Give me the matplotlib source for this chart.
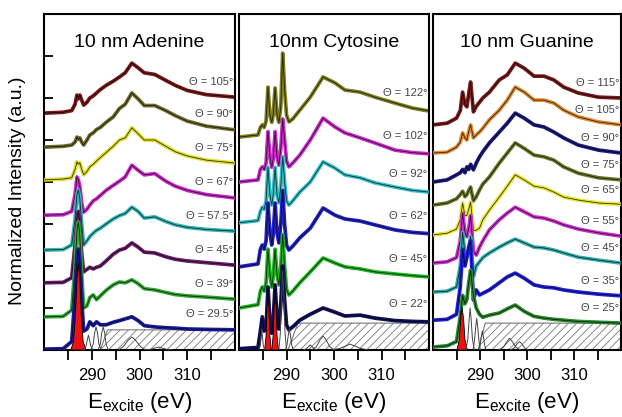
import matplotlib.pyplot as plt
import numpy as np

plt.rcParams['font.family'] = ['Liberation Sans', 'DejaVu Sans']
plt.rcParams['hatch.linewidth'] = 0.6

# ---------------- Adenine ----------------
e_ade = [280, 284, 285.8, 286.5, 286.9, 287.2, 287.5, 287.9, 288.3, 289.0, 289.6, 290.3, 291.0, 291.8,
         293.0, 294.5, 295.8, 297.0, 298.4, 299.7, 301.0, 303.2, 305.5, 307.5, 310, 314, 320]
ade_angles = ['105', '90', '75', '67', '57.5', '45', '39', '29.5']
ade_colors = ['#7a1a1a', '#6e6b2c', '#dede2a', '#cc2ccc', '#35b5b5', '#6a1f6a', '#33a833', '#1c1ca0']
ade_105 = [5.64, 5.66, 5.70, 5.85, 6.07, 5.98, 6.07, 5.95, 5.83, 5.90, 6.00, 6.05, 6.12, 6.20,
           6.30, 6.40, 6.50, 6.60, 6.83, 6.72, 6.60, 6.56, 6.42, 6.30, 6.18, 6.08, 6.02]
ade_90 = [4.83, 4.85, 4.88, 4.95, 5.07, 5.02, 5.05, 4.95, 4.88, 5.00, 5.12, 5.17, 5.25, 5.30,
          5.42, 5.55, 5.75, 5.85, 6.12, 5.98, 5.82, 5.82, 5.70, 5.58, 5.45, 5.33, 5.24]
ade_75 = [4.05, 4.07, 4.10, 4.30, 4.48, 4.42, 4.46, 4.30, 4.17, 4.25, 4.36, 4.42, 4.50, 4.58,
          4.70, 4.85, 5.00, 5.05, 5.29, 5.15, 5.00, 5.00, 4.85, 4.72, 4.62, 4.52, 4.45]
ade_67 = [3.21, 3.22, 3.30, 3.70, 4.12, 4.05, 3.90, 3.50, 3.28, 3.35, 3.45, 3.55, 3.60, 3.68,
          3.80, 3.92, 4.02, 4.12, 4.40, 4.28, 4.17, 4.20, 4.02, 3.90, 3.80, 3.70, 3.62]
ade_57 = [2.38, 2.39, 2.50, 3.10, 3.70, 3.81, 3.60, 3.00, 2.50, 2.60, 2.70, 2.78, 2.85, 2.90,
          3.00, 3.12, 3.20, 3.25, 3.40, 3.30, 3.14, 3.17, 3.06, 2.98, 2.92, 2.87, 2.83]
ade_45 = [1.60, 1.61, 1.72, 2.50, 3.15, 3.30, 3.00, 2.30, 1.86, 1.92, 1.97, 1.93, 1.97, 2.00,
          2.12, 2.28, 2.38, 2.42, 2.55, 2.45, 2.33, 2.31, 2.22, 2.16, 2.12, 2.08, 2.02]
ade_39 = [0.79, 0.80, 0.95, 2.00, 2.85, 3.05, 2.70, 1.80, 1.00, 1.05, 1.25, 1.31, 1.20, 1.29,
          1.42, 1.55, 1.62, 1.60, 1.67, 1.58, 1.46, 1.43, 1.37, 1.32, 1.29, 1.26, 1.21]
ade_29 = [0.02, 0.03, 0.20, 1.30, 2.15, 2.40, 2.10, 1.20, 0.45, 0.50, 0.67, 0.58, 0.67, 0.60,
          0.60, 0.66, 0.70, 0.74, 0.79, 0.70, 0.58, 0.55, 0.53, 0.52, 0.50, 0.49, 0.48]
ade_spectra = [ade_105, ade_90, ade_75, ade_67, ade_57, ade_45, ade_39, ade_29]

ade_red_e = [285.6, 286.2, 286.6, 286.9, 287.2, 287.5, 287.8, 288.2, 288.8]
ade_red_y = [0, 0.2, 0.85, 1.7, 2.07, 1.7, 0.85, 0.2, 0]
ade_fit_e = [[288.3, 288.8, 289.1, 289.3, 289.5, 289.8, 290.3],
             [289.8, 290.3, 290.6, 290.9, 291.2, 291.5, 292.0],
             [291.3, 291.8, 292.1, 292.4, 292.7, 293.0, 293.5],
             [295.5, 296.6, 297.6, 298.4, 299.2, 300.2, 301.3],
             [301.0, 302.5, 303.3, 304.0, 304.7, 305.5, 307.0]]
ade_fit_y = [[0, 0.09, 0.26, 0.35, 0.26, 0.09, 0],
             [0, 0.14, 0.41, 0.55, 0.41, 0.14, 0],
             [0, 0.14, 0.41, 0.55, 0.41, 0.14, 0],
             [0, 0.08, 0.23, 0.31, 0.23, 0.08, 0],
             [0, 0.02, 0.05, 0.07, 0.05, 0.02, 0]]
ade_step_e = [280, 291.8, 293.3, 320]
ade_step_y = [0, 0, 0.48, 0.48]

# ---------------- Cytosine ----------------
e_cyt = [280, 284.0, 284.5, 284.9, 285.3, 285.7, 286.1, 286.5, 286.9, 287.2, 287.6, 288.0, 288.4, 288.8,
         289.2, 289.6, 290.0, 290.5, 291.3, 292.8, 295.0, 297.7, 300.2, 302.3, 305.5, 308.6, 312.8, 316.5, 320]
cyt_angles = ['122', '102', '92', '62', '45', '22']
cyt_colors = ['#80801e', '#cc2ccc', '#35c0c8', '#2323c8', '#22b422', '#12125e']
cyt_122 = [5.07, 5.12, 5.30, 5.36, 5.30, 5.45, 6.26, 5.60, 5.42, 5.60, 6.24, 5.60, 5.42, 5.80,
           7.07, 6.20, 5.60, 5.43, 5.50, 5.71, 6.02, 6.50, 6.36, 6.19, 6.14, 6.02, 5.88, 5.76, 5.69]
cyt_102 = [4.00, 4.05, 4.30, 4.36, 4.30, 4.45, 5.20, 4.60, 4.35, 4.55, 5.20, 4.60, 4.40, 4.80,
           5.50, 5.00, 4.50, 4.36, 4.45, 4.64, 5.00, 5.52, 5.31, 5.17, 5.05, 4.93, 4.76, 4.70, 4.67]
cyt_92 = [3.03, 3.08, 3.30, 3.40, 3.35, 3.55, 4.35, 3.70, 3.45, 3.70, 4.35, 3.70, 3.50, 3.90,
          4.60, 4.00, 3.55, 3.45, 3.55, 3.76, 4.00, 4.48, 4.33, 4.17, 4.10, 3.98, 3.88, 3.80, 3.76]
cyt_62 = [1.98, 2.05, 2.40, 2.50, 2.40, 2.60, 3.50, 2.80, 2.50, 2.75, 3.50, 2.80, 2.55, 3.00,
          3.80, 3.00, 2.50, 2.38, 2.47, 2.67, 2.90, 3.38, 3.21, 3.12, 3.07, 2.98, 2.86, 2.80, 2.77]
cyt_45 = [1.00, 1.08, 1.40, 1.50, 1.40, 1.60, 2.40, 1.80, 1.50, 1.75, 2.40, 1.80, 1.55, 2.00,
          2.75, 2.00, 1.45, 1.31, 1.40, 1.60, 1.86, 2.19, 2.07, 1.98, 1.93, 1.86, 1.81, 1.77, 1.74]
cyt_22 = [0.03, 0.06, 0.45, 0.79, 0.45, 0.50, 1.50, 0.70, 0.40, 0.70, 1.55, 0.80, 0.50, 1.10,
          2.00, 1.20, 0.60, 0.48, 0.55, 0.71, 0.85, 1.00, 0.90, 0.81, 0.83, 0.76, 0.70, 0.68, 0.67]
cyt_spectra = [cyt_122, cyt_102, cyt_92, cyt_62, cyt_45, cyt_22]

cyt_red_e = [[285.4, 285.7, 285.9, 286.1, 286.3, 286.5, 286.8],
             [286.9, 287.2, 287.4, 287.6, 287.8, 288.0, 288.3]]
cyt_red_y = [[0, 0.34, 1.0, 1.36, 1.0, 0.34, 0],
             [0, 0.36, 1.05, 1.43, 1.05, 0.36, 0]]
cyt_fit_e = [[284.2, 284.5, 284.7, 284.8, 284.9, 285.1, 285.4],
             [288.4, 288.7, 289.0, 289.2, 289.4, 289.7, 290.0],
             [289.8, 290.1, 290.4, 290.6, 290.8, 291.1, 291.4],
             [293.5, 294.2, 294.7, 295.0, 295.3, 295.8, 296.5],
             [295.3, 296.3, 297.1, 297.7, 298.3, 299.1, 300.1],
             [299.5, 301.3, 302.5, 303.4, 304.3, 305.5, 307.3]]
cyt_fit_y = [[0, 0.12, 0.37, 0.5, 0.37, 0.12, 0],
             [0, 0.4, 1.4, 1.9, 1.4, 0.4, 0],
             [0, 0.12, 0.37, 0.5, 0.37, 0.12, 0],
             [0, 0.03, 0.09, 0.12, 0.09, 0.03, 0],
             [0, 0.08, 0.25, 0.33, 0.25, 0.08, 0],
             [0, 0.04, 0.10, 0.14, 0.10, 0.04, 0]]
cyt_step_e = [280, 290.3, 292.4, 320]
cyt_step_y = [0, 0, 0.64, 0.64]

# ---------------- Guanine ----------------
e_gua = [280, 283, 285, 285.8, 286.3, 286.8, 287.2, 287.6, 288.0, 288.6, 289.2, 289.9, 290.6,
         292.0, 294.1, 295.8, 297.5, 299.4, 301.5, 303.6, 305.7, 307.8, 310.9, 315.2, 320]
gua_angles = ['115', '105', '90', '75', '65', '55', '45', '35', '25']
gua_colors = ['#7a1a1a', '#e08a32', '#1c1c80', '#6b7a2a', '#e6e632', '#cc33cc', '#35b0b0', '#2020dd', '#2e8a2e']
gua_115 = [5.36, 5.40, 5.52, 5.70, 6.14, 5.85, 5.79, 6.10, 6.38, 5.67, 5.80, 5.90, 6.00,
           6.14, 6.43, 6.55, 6.83, 6.71, 6.52, 6.52, 6.43, 6.26, 6.12, 6.02, 6.00]
gua_105 = [4.69, 4.71, 4.83, 4.95, 5.17, 5.05, 5.00, 5.20, 5.36, 5.05, 5.12, 5.19, 5.28,
           5.48, 5.71, 5.95, 6.26, 6.14, 5.95, 5.95, 5.88, 5.71, 5.55, 5.43, 5.36]
gua_90 = [4.00, 4.05, 4.17, 4.22, 4.30, 4.22, 4.36, 4.30, 4.42, 4.29, 4.45, 4.60, 4.72,
          4.93, 5.19, 5.40, 5.64, 5.52, 5.36, 5.31, 5.19, 5.05, 4.88, 4.76, 4.69]
gua_75 = [3.45, 3.50, 3.60, 3.70, 3.78, 3.65, 3.70, 3.80, 3.88, 3.55, 3.65, 3.81, 3.95,
          4.12, 4.45, 4.69, 4.93, 4.80, 4.64, 4.60, 4.52, 4.36, 4.21, 4.10, 4.05]
gua_65 = [2.74, 2.78, 2.88, 3.10, 3.50, 3.20, 3.20, 3.35, 3.52, 2.85, 2.85, 2.90, 3.10,
          3.33, 3.64, 3.90, 4.17, 4.05, 3.90, 3.86, 3.76, 3.64, 3.57, 3.50, 3.47]
gua_55 = [2.07, 2.10, 2.20, 2.60, 3.26, 2.80, 2.70, 2.90, 3.20, 2.35, 2.26, 2.45, 2.60,
          2.86, 3.10, 3.26, 3.40, 3.29, 3.17, 3.14, 3.07, 2.98, 2.88, 2.79, 2.71]
gua_45 = [1.38, 1.40, 1.50, 2.00, 2.80, 2.30, 2.20, 2.40, 2.70, 1.75, 2.00, 2.10, 2.20,
          2.31, 2.45, 2.55, 2.64, 2.55, 2.45, 2.43, 2.38, 2.31, 2.21, 2.14, 2.07]
gua_35 = [0.71, 0.73, 0.85, 1.50, 2.40, 2.00, 2.20, 2.45, 2.60, 1.19, 1.43, 1.31, 1.35,
          1.43, 1.60, 1.74, 1.83, 1.71, 1.55, 1.50, 1.48, 1.43, 1.38, 1.33, 1.29]
gua_25 = [0.07, 0.10, 0.20, 0.80, 1.30, 1.10, 1.20, 1.60, 1.90, 1.30, 1.00, 0.85, 0.78,
          0.83, 0.88, 0.98, 1.07, 0.92, 0.80, 0.76, 0.73, 0.71, 0.68, 0.66, 0.64]
gua_spectra = [gua_115, gua_105, gua_90, gua_75, gua_65, gua_55, gua_45, gua_35, gua_25]

gua_red_e = [[285.1, 285.6, 285.9, 286.2, 286.5, 286.8, 287.3]]
gua_red_y = [[0, 0.25, 0.75, 1.0, 0.75, 0.25, 0]]
gua_fit_e = [[287.0, 287.4, 287.7, 287.9, 288.1, 288.4, 288.8],
             [288.5, 288.8, 289.1, 289.3, 289.5, 289.8, 290.1],
             [289.7, 290.0, 290.3, 290.5, 290.7, 291.0, 291.3],
             [294.0, 295.0, 295.8, 296.3, 296.8, 297.6, 298.6],
             [296.5, 297.3, 297.9, 298.4, 298.9, 299.5, 300.3]]
gua_fit_y = [[0, 0.25, 0.75, 1.0, 0.75, 0.25, 0],
             [0, 0.19, 0.56, 0.75, 0.56, 0.19, 0],
             [0, 0.11, 0.34, 0.45, 0.34, 0.11, 0],
             [0, 0.07, 0.21, 0.28, 0.21, 0.07, 0],
             [0, 0.05, 0.15, 0.20, 0.15, 0.05, 0]]
gua_step_e = [280, 289.6, 291.1, 320]
gua_step_y = [0, 0, 0.64, 0.64]

titles = ['10 nm Adenine', '10nm Cytosine', '10 nm Guanine']

fig = plt.figure(figsize=(6.22, 4.17), dpi=100)
rects = [[44 / 622, 67 / 417, 191 / 622, 336 / 417],
         [239 / 622, 67 / 417, 190 / 622, 336 / 417],
         [433 / 622, 67 / 417, 188 / 622, 336 / 417]]

panels = [
    (e_ade, ade_spectra, ade_colors, ade_angles, [ade_red_e], [ade_red_y], ade_fit_e, ade_fit_y,
     ade_step_e, ade_step_y, 0.37),
    (e_cyt, cyt_spectra, cyt_colors, cyt_angles, cyt_red_e, cyt_red_y, cyt_fit_e, cyt_fit_y,
     cyt_step_e, cyt_step_y, 0.42),
    (e_gua, gua_spectra, gua_colors, gua_angles, gua_red_e, gua_red_y, gua_fit_e, gua_fit_y,
     gua_step_e, gua_step_y, 0.35),
]

for i, (rect, p, title) in enumerate(zip(rects, panels, titles)):
    energy, spectra, colors, angles, red_e, red_y, fit_e, fit_y, step_e, step_y, lab_off = p
    ax = fig.add_axes(rect)

    # edge step (hatched)
    ax.fill_between(step_e, 0, step_y, facecolor='none', edgecolor='#777777',
                    hatch='////', linewidth=0.8, zorder=1)

    # spectra from high angle (top) to low angle (bottom)
    for k, (vals, col, ang) in enumerate(zip(spectra, colors, angles)):
        z = 2 + k
        ax.plot(energy, vals, color=col, lw=2.7, solid_joinstyle='round', zorder=z)
        ax.plot(energy, vals, color='black', lw=0.6, alpha=0.75, zorder=z + 0.1)
        ax.text(319.6, vals[-1] + lab_off, '\u0398 = ' + ang + '\u00b0', ha='right', va='center',
                fontsize=8, color='#444444', zorder=30)

    for ex, ey in zip(red_e, red_y):
        ax.fill(ex, ey, facecolor='#ee1111', edgecolor='black', lw=0.6, zorder=20)
    for ex, ey in zip(fit_e, fit_y):
        ax.plot(ex, ey, color='#444444', lw=0.7, zorder=21)

    ax.set_xlim(280, 320)
    ax.set_ylim(0, 8)
    ax.set_xticks([290, 300, 310])
    ax.set_xticks([285, 295, 305, 315], minor=True)
    ax.tick_params(axis='x', which='both', direction='out', length=7, width=1.3, labelsize=12, pad=6)
    if i == 0:
        ax.set_yticks(range(1, 8))
        ax.tick_params(axis='y', direction='in', length=6.5, width=1.3, labelleft=False)
    else:
        ax.set_yticks([])
    for s in ax.spines.values():
        s.set_linewidth(1.5)
    ax.set_xlabel(r'E$_\mathregular{excite}$ (eV)', fontsize=16, labelpad=5)
    ax.text(0.5, 0.915, title, transform=ax.transAxes, ha='center', va='center', fontsize=14)

fig.text(18 / 622, (417 - 191) / 417, 'Normalized Intensity (a.u.)', rotation=90,
         ha='center', va='center', fontsize=14)

fig.savefig('out.png', dpi=100)
